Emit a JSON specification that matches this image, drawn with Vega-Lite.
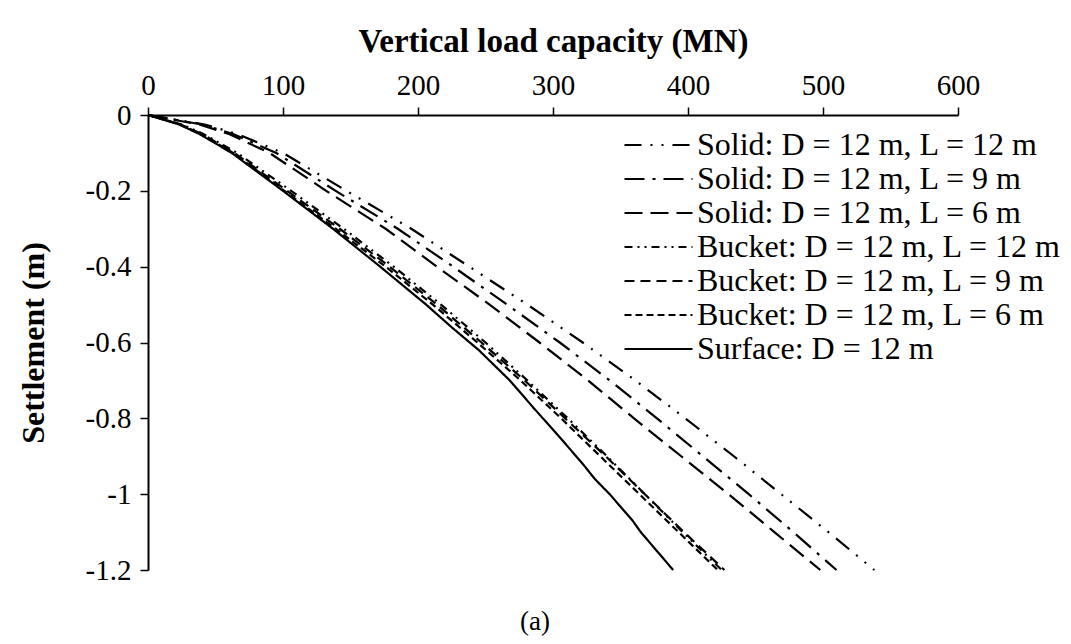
{
  "$schema": "https://vega.github.io/schema/vega-lite/v6.json",
  "width": 810,
  "height": 455,
  "autosize": {"type": "none"},
  "padding": {"left": 148, "top": 115, "right": 113, "bottom": 74},
  "background": "white",
  "title": {"text": "(a)", "orient": "bottom", "anchor": "middle", "frame": "group", "offset": 24, "fontSize": 27, "font": "Liberation Serif", "fontWeight": "normal", "color": "black", "dx": -18},
  "data": {"values": [
    {"series": "Solid: D = 12 m, L = 12 m", "s": 0, "q": 0},
    {"series": "Solid: D = 12 m, L = 12 m", "s": -0.025, "q": 42},
    {"series": "Solid: D = 12 m, L = 12 m", "s": -0.05, "q": 66},
    {"series": "Solid: D = 12 m, L = 12 m", "s": -0.1, "q": 100},
    {"series": "Solid: D = 12 m, L = 12 m", "s": -0.2, "q": 147},
    {"series": "Solid: D = 12 m, L = 12 m", "s": -0.3, "q": 195},
    {"series": "Solid: D = 12 m, L = 12 m", "s": -0.4, "q": 238},
    {"series": "Solid: D = 12 m, L = 12 m", "s": -0.5, "q": 281},
    {"series": "Solid: D = 12 m, L = 12 m", "s": -0.6, "q": 322},
    {"series": "Solid: D = 12 m, L = 12 m", "s": -0.7, "q": 361},
    {"series": "Solid: D = 12 m, L = 12 m", "s": -0.8, "q": 398},
    {"series": "Solid: D = 12 m, L = 12 m", "s": -0.9, "q": 434},
    {"series": "Solid: D = 12 m, L = 12 m", "s": -1.0, "q": 469},
    {"series": "Solid: D = 12 m, L = 12 m", "s": -1.1, "q": 504},
    {"series": "Solid: D = 12 m, L = 12 m", "s": -1.2, "q": 538},
    {"series": "Solid: D = 12 m, L = 9 m", "s": 0, "q": 0},
    {"series": "Solid: D = 12 m, L = 9 m", "s": -0.025, "q": 40},
    {"series": "Solid: D = 12 m, L = 9 m", "s": -0.05, "q": 63},
    {"series": "Solid: D = 12 m, L = 9 m", "s": -0.1, "q": 95},
    {"series": "Solid: D = 12 m, L = 9 m", "s": -0.2, "q": 139},
    {"series": "Solid: D = 12 m, L = 9 m", "s": -0.3, "q": 185},
    {"series": "Solid: D = 12 m, L = 9 m", "s": -0.4, "q": 226},
    {"series": "Solid: D = 12 m, L = 9 m", "s": -0.5, "q": 266},
    {"series": "Solid: D = 12 m, L = 9 m", "s": -0.6, "q": 305},
    {"series": "Solid: D = 12 m, L = 9 m", "s": -0.7, "q": 342},
    {"series": "Solid: D = 12 m, L = 9 m", "s": -0.8, "q": 377},
    {"series": "Solid: D = 12 m, L = 9 m", "s": -0.9, "q": 411},
    {"series": "Solid: D = 12 m, L = 9 m", "s": -1.0, "q": 445},
    {"series": "Solid: D = 12 m, L = 9 m", "s": -1.1, "q": 478},
    {"series": "Solid: D = 12 m, L = 9 m", "s": -1.2, "q": 510},
    {"series": "Solid: D = 12 m, L = 6 m", "s": 0, "q": 0},
    {"series": "Solid: D = 12 m, L = 6 m", "s": -0.025, "q": 38},
    {"series": "Solid: D = 12 m, L = 6 m", "s": -0.05, "q": 60},
    {"series": "Solid: D = 12 m, L = 6 m", "s": -0.1, "q": 90},
    {"series": "Solid: D = 12 m, L = 6 m", "s": -0.2, "q": 132},
    {"series": "Solid: D = 12 m, L = 6 m", "s": -0.3, "q": 176},
    {"series": "Solid: D = 12 m, L = 6 m", "s": -0.4, "q": 214},
    {"series": "Solid: D = 12 m, L = 6 m", "s": -0.5, "q": 253},
    {"series": "Solid: D = 12 m, L = 6 m", "s": -0.6, "q": 290},
    {"series": "Solid: D = 12 m, L = 6 m", "s": -0.7, "q": 326},
    {"series": "Solid: D = 12 m, L = 6 m", "s": -0.8, "q": 360},
    {"series": "Solid: D = 12 m, L = 6 m", "s": -0.9, "q": 395},
    {"series": "Solid: D = 12 m, L = 6 m", "s": -1.0, "q": 430},
    {"series": "Solid: D = 12 m, L = 6 m", "s": -1.1, "q": 464},
    {"series": "Solid: D = 12 m, L = 6 m", "s": -1.2, "q": 498},
    {"series": "Bucket: D = 12 m, L = 12 m", "s": 0, "q": 0},
    {"series": "Bucket: D = 12 m, L = 12 m", "s": -0.025, "q": 25},
    {"series": "Bucket: D = 12 m, L = 12 m", "s": -0.05, "q": 41},
    {"series": "Bucket: D = 12 m, L = 12 m", "s": -0.1, "q": 66},
    {"series": "Bucket: D = 12 m, L = 12 m", "s": -0.2, "q": 106},
    {"series": "Bucket: D = 12 m, L = 12 m", "s": -0.3, "q": 145},
    {"series": "Bucket: D = 12 m, L = 12 m", "s": -0.4, "q": 182},
    {"series": "Bucket: D = 12 m, L = 12 m", "s": -0.5, "q": 217},
    {"series": "Bucket: D = 12 m, L = 12 m", "s": -0.6, "q": 250},
    {"series": "Bucket: D = 12 m, L = 12 m", "s": -0.7, "q": 281},
    {"series": "Bucket: D = 12 m, L = 12 m", "s": -0.8, "q": 311},
    {"series": "Bucket: D = 12 m, L = 12 m", "s": -0.9, "q": 340},
    {"series": "Bucket: D = 12 m, L = 12 m", "s": -1.0, "q": 368},
    {"series": "Bucket: D = 12 m, L = 12 m", "s": -1.1, "q": 396},
    {"series": "Bucket: D = 12 m, L = 12 m", "s": -1.2, "q": 425},
    {"series": "Bucket: D = 12 m, L = 9 m", "s": 0, "q": 0},
    {"series": "Bucket: D = 12 m, L = 9 m", "s": -0.025, "q": 24},
    {"series": "Bucket: D = 12 m, L = 9 m", "s": -0.05, "q": 40},
    {"series": "Bucket: D = 12 m, L = 9 m", "s": -0.1, "q": 64},
    {"series": "Bucket: D = 12 m, L = 9 m", "s": -0.2, "q": 103},
    {"series": "Bucket: D = 12 m, L = 9 m", "s": -0.3, "q": 142},
    {"series": "Bucket: D = 12 m, L = 9 m", "s": -0.4, "q": 179},
    {"series": "Bucket: D = 12 m, L = 9 m", "s": -0.5, "q": 214},
    {"series": "Bucket: D = 12 m, L = 9 m", "s": -0.6, "q": 247},
    {"series": "Bucket: D = 12 m, L = 9 m", "s": -0.7, "q": 279},
    {"series": "Bucket: D = 12 m, L = 9 m", "s": -0.8, "q": 309},
    {"series": "Bucket: D = 12 m, L = 9 m", "s": -0.9, "q": 339},
    {"series": "Bucket: D = 12 m, L = 9 m", "s": -1.0, "q": 368},
    {"series": "Bucket: D = 12 m, L = 9 m", "s": -1.1, "q": 397},
    {"series": "Bucket: D = 12 m, L = 9 m", "s": -1.2, "q": 427},
    {"series": "Bucket: D = 12 m, L = 6 m", "s": 0, "q": 0},
    {"series": "Bucket: D = 12 m, L = 6 m", "s": -0.025, "q": 24},
    {"series": "Bucket: D = 12 m, L = 6 m", "s": -0.05, "q": 39},
    {"series": "Bucket: D = 12 m, L = 6 m", "s": -0.1, "q": 63},
    {"series": "Bucket: D = 12 m, L = 6 m", "s": -0.2, "q": 101},
    {"series": "Bucket: D = 12 m, L = 6 m", "s": -0.3, "q": 139},
    {"series": "Bucket: D = 12 m, L = 6 m", "s": -0.4, "q": 176},
    {"series": "Bucket: D = 12 m, L = 6 m", "s": -0.5, "q": 211},
    {"series": "Bucket: D = 12 m, L = 6 m", "s": -0.6, "q": 244},
    {"series": "Bucket: D = 12 m, L = 6 m", "s": -0.7, "q": 276},
    {"series": "Bucket: D = 12 m, L = 6 m", "s": -0.8, "q": 306},
    {"series": "Bucket: D = 12 m, L = 6 m", "s": -0.9, "q": 335},
    {"series": "Bucket: D = 12 m, L = 6 m", "s": -1.0, "q": 364},
    {"series": "Bucket: D = 12 m, L = 6 m", "s": -1.1, "q": 393},
    {"series": "Bucket: D = 12 m, L = 6 m", "s": -1.2, "q": 422},
    {"series": "Surface: D = 12 m", "s": 0, "q": 0},
    {"series": "Surface: D = 12 m", "s": -0.025, "q": 23},
    {"series": "Surface: D = 12 m", "s": -0.05, "q": 38},
    {"series": "Surface: D = 12 m", "s": -0.1, "q": 62},
    {"series": "Surface: D = 12 m", "s": -0.2, "q": 100},
    {"series": "Surface: D = 12 m", "s": -0.3, "q": 137},
    {"series": "Surface: D = 12 m", "s": -0.4, "q": 172},
    {"series": "Surface: D = 12 m", "s": -0.5, "q": 206},
    {"series": "Surface: D = 12 m", "s": -0.56, "q": 225},
    {"series": "Surface: D = 12 m", "s": -0.62, "q": 245},
    {"series": "Surface: D = 12 m", "s": -0.7, "q": 268},
    {"series": "Surface: D = 12 m", "s": -0.77, "q": 285},
    {"series": "Surface: D = 12 m", "s": -0.85, "q": 305},
    {"series": "Surface: D = 12 m", "s": -0.92, "q": 322},
    {"series": "Surface: D = 12 m", "s": -0.96, "q": 331},
    {"series": "Surface: D = 12 m", "s": -1.0, "q": 342},
    {"series": "Surface: D = 12 m", "s": -1.07, "q": 359},
    {"series": "Surface: D = 12 m", "s": -1.1, "q": 365},
    {"series": "Surface: D = 12 m", "s": -1.2, "q": 389}
  ]},
  "mark": {"type": "line", "strokeWidth": 2.2, "color": "black", "strokeCap": "butt"},
  "encoding": {
    "x": {
      "field": "q", "type": "quantitative",
      "scale": {"domain": [0, 600], "nice": false, "zero": false},
      "axis": {
        "orient": "top", "values": [0, 100, 200, 300, 400, 500, 600],
        "title": "Vertical load capacity (MN)",
        "titleFont": "Liberation Serif", "titleFontSize": 33, "titleFontWeight": "bold", "titleColor": "black", "titlePadding": 13,
        "labelFont": "Liberation Serif", "labelFontSize": 29, "labelColor": "black", "labelPadding": 7,
        "labelFlush": false, "labelOverlap": false,
        "tickSize": 8, "tickColor": "black", "tickWidth": 1.5,
        "domainColor": "black", "domainWidth": 2, "grid": false
      }
    },
    "y": {
      "field": "s", "type": "quantitative",
      "scale": {"domain": [-1.2, 0], "nice": false, "zero": false},
      "axis": {
        "orient": "left", "values": [0, -0.2, -0.4, -0.6, -0.8, -1, -1.2],
        "labelExpr": "datum.value == 0 ? '0' : '-' + format(abs(datum.value), '')",
        "title": "Settlement (m)",
        "titleFont": "Liberation Serif", "titleFontSize": 32, "titleFontWeight": "bold", "titleColor": "black", "titlePadding": 35,
        "labelFont": "Liberation Serif", "labelFontSize": 29, "labelColor": "black", "labelPadding": 9,
        "labelFlush": false, "labelOverlap": false,
        "tickSize": 8, "tickColor": "black", "tickWidth": 1.5,
        "domainColor": "black", "domainWidth": 2, "grid": false
      }
    },
    "strokeDash": {
      "field": "series", "type": "nominal",
      "scale": {
        "domain": ["Solid: D = 12 m, L = 12 m", "Solid: D = 12 m, L = 9 m", "Solid: D = 12 m, L = 6 m", "Bucket: D = 12 m, L = 12 m", "Bucket: D = 12 m, L = 9 m", "Bucket: D = 12 m, L = 6 m", "Surface: D = 12 m"],
        "range": [[17, 9, 2, 9, 2, 9], [20, 8, 3, 8], [18, 8], [8, 5, 2, 5, 2, 5], [10, 6], [7, 4], [1, 0]]
      },
      "legend": {
        "title": null, "orient": "none", "legendX": 475, "legendY": 13,
        "symbolType": "stroke", "symbolSize": 4624, "symbolStrokeWidth": 2.2, "symbolStrokeColor": "black",
        "clipHeight": 34, "rowPadding": 0, "padding": 0,
        "labelFont": "Liberation Serif", "labelFontSize": 32, "labelColor": "black", "labelOffset": 3, "labelLimit": 0
      }
    }
  },
  "config": {"view": {"stroke": null}, "font": "Liberation Serif"}
}
